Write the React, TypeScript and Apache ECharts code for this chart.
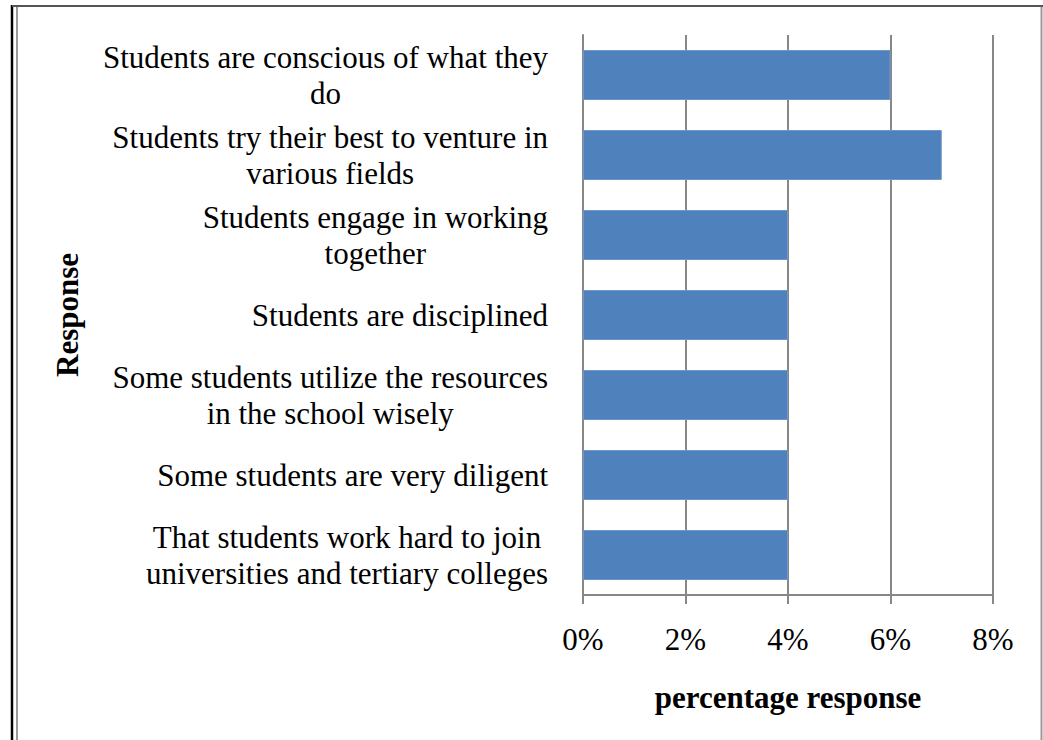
import React, { useEffect, useRef } from "react";
import * as echarts from "echarts";

const categories: string[][] = [
  ["Students are conscious of what they", "do"],
  ["Students try their best to venture in", "various fields"],
  ["Students engage in working", "together"],
  ["Students are disciplined"],
  ["Some students utilize the resources", "in the school wisely"],
  ["Some students are very diligent"],
  ["That students work hard to join", "universities and tertiary colleges"],
];
const values: number[] = [6, 7, 4, 4, 4, 4, 4];
const xTicks = { min: 0, max: 8, interval: 2 };
const xName = "percentage response";
const yName = "Response";

const FONT = "'Liberation Serif', 'Times New Roman', serif";
const GRAY = "#878787";

export default function App() {
  const ref = useRef<HTMLDivElement>(null);
  useEffect(() => {
    if (!ref.current) return;
    const chart = echarts.init(ref.current, undefined, { renderer: "svg" });
    const catKeys = categories.map((c) => c.join("\n"));
    chart.setOption({
      animation: false,
      backgroundColor: "#fff",
      grid: { left: 583, right: 50, top: 35, bottom: 145, containLabel: false },
      xAxis: {
        type: "value",
        min: xTicks.min,
        max: xTicks.max,
        interval: xTicks.interval,
        name: xName,
        nameLocation: "middle",
        nameGap: 87,
        nameTextStyle: { fontFamily: FONT, fontSize: 31, fontWeight: "bold", color: "#000" },
        axisLine: { show: true, lineStyle: { color: GRAY, width: 2 } },
        axisTick: { show: true, length: 9, lineStyle: { color: GRAY, width: 2 } },
        splitLine: { show: true, lineStyle: { color: GRAY, width: 2 } },
        axisLabel: {
          formatter: (v: number) => `${v}%`,
          fontFamily: FONT,
          fontSize: 31,
          color: "#000",
          margin: 29,
        },
      },
      yAxis: {
        type: "category",
        inverse: true,
        data: catKeys,
        name: yName,
        nameLocation: "middle",
        nameRotate: 90,
        nameGap: 500,
        nameTextStyle: { fontFamily: FONT, fontSize: 31, fontWeight: "bold", color: "#000" },
        axisLine: { show: true, lineStyle: { color: GRAY, width: 2 } },
        axisTick: { show: false },
        splitLine: { show: false },
        axisLabel: {
          margin: 35,
          formatter: (v: string) =>
            v
              .split("\n")
              .map((l) => `{c|${l}}`)
              .join("\n"),
          rich: {
            c: {
              fontFamily: FONT,
              fontSize: 31,
              lineHeight: 36,
              color: "#000",
              align: "center",
            },
          },
        },
      },
      series: [
        {
          type: "bar",
          data: values,
          barCategoryGap: "37.5%",
          itemStyle: { color: "#4F81BD", borderColor: "#6E97CB", borderWidth: 1 },
        },
      ],
      graphic: [
        { type: "line", shape: { x1: 12, y1: 5, x2: 12, y2: 740 }, style: { stroke: "#000", lineWidth: 2.5 } },
        { type: "line", shape: { x1: 12, y1: 6, x2: 1043, y2: 6 }, style: { stroke: "#555", lineWidth: 2 } },
        { type: "line", shape: { x1: 17, y1: 7, x2: 17, y2: 740 }, style: { stroke: "#999", lineWidth: 2 } },
        { type: "line", shape: { x1: 1041.5, y1: 7, x2: 1041.5, y2: 740 }, style: { stroke: "#999", lineWidth: 2 } },
      ],
    });
    return () => chart.dispose();
  }, []);
  return (
    <div
      ref={ref}
      style={{ position: "fixed", left: 0, top: 0, width: 1043, height: 740, background: "#fff" }}
    />
  );
}
